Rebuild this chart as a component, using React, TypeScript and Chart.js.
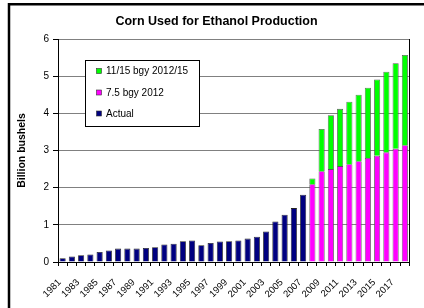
import React, { useEffect, useRef } from 'react';
import { Chart, registerables } from 'chart.js';

Chart.register(...registerables);

const FONT = '"Liberation Sans", Arial, sans-serif';

const years = [
  '1981', '1982', '1983', '1984', '1985', '1986', '1987', '1988', '1989', '1990',
  '1991', '1992', '1993', '1994', '1995', '1996', '1997', '1998', '1999', '2000',
  '2001', '2002', '2003', '2004', '2005', '2006', '2007', '2008', '2009', '2010',
  '2011', '2012', '2013', '2014', '2015', '2016', '2017', '2018',
];

const actual = [
  0.1, 0.15, 0.18, 0.2, 0.27, 0.31, 0.36, 0.36, 0.36, 0.38,
  0.4, 0.47, 0.49, 0.56, 0.58, 0.45, 0.51, 0.55, 0.56, 0.58,
  0.63, 0.68, 0.82, 1.09, 1.27, 1.45, 1.81, null, null, null,
  null, null, null, null, null, null, null, null,
];

const rfs75 = [
  null, null, null, null, null, null, null, null, null, null,
  null, null, null, null, null, null, null, null, null, null,
  null, null, null, null, null, null, null, 2.09, 2.44, 2.5,
  2.58, 2.63, 2.71, 2.8, 2.86, 2.95, 3.05, 3.14,
];

const rfs1115 = [
  null, null, null, null, null, null, null, null, null, null,
  null, null, null, null, null, null, null, null, null, null,
  null, null, null, null, null, null, null, 0.16, 1.14, 1.45,
  1.54, 1.68, 1.79, 1.89, 2.05, 2.17, 2.3, 2.43,
];

const yTicks = [0, 1, 2, 3, 4, 5, 6];

const framePlugin = {
  id: 'frame',
  beforeDraw(chart: any) {
    const ctx = chart.ctx;
    ctx.save();
    ctx.fillStyle = '#fff';
    ctx.fillRect(0, 0, chart.width, chart.height);
    ctx.strokeStyle = '#000';
    ctx.lineWidth = 2.5;
    ctx.beginPath();
    ctx.moveTo(9, chart.height + 2);
    ctx.lineTo(9, 4.3);
    ctx.lineTo(chart.width + 2, 4.3);
    ctx.stroke();
    ctx.restore();
  },
  afterDraw(chart: any) {
    const ctx = chart.ctx;
    const a = chart.chartArea;
    ctx.save();
    ctx.strokeStyle = '#000';
    ctx.lineWidth = 1;
    ctx.beginPath();
    ctx.moveTo(Math.round(a.right) + 0.5, a.top);
    ctx.lineTo(Math.round(a.right) + 0.5, a.bottom);
    ctx.stroke();

    // legend box inside plot
    const bx = 85.5, by = 60.5, bw = 114, bh = 66;
    ctx.fillStyle = '#fff';
    ctx.fillRect(bx, by, bw, bh);
    ctx.strokeStyle = '#000';
    ctx.strokeRect(bx, by, bw, bh);
    const ds = chart.data.datasets;
    const order = [2, 1, 0];
    const ys = [71, 92.5, 113.5];
    ctx.font = '10px ' + FONT;
    ctx.textBaseline = 'middle';
    ctx.textAlign = 'left';
    order.forEach((di, i) => {
      const d = ds[di];
      ctx.fillStyle = d.backgroundColor;
      ctx.fillRect(96.5, ys[i] - 2.5, 5, 5);
      ctx.strokeStyle = '#333';
      ctx.lineWidth = 0.6;
      ctx.strokeRect(96.5, ys[i] - 2.5, 5, 5);
      ctx.fillStyle = '#000';
      ctx.fillText(d.label, 106, ys[i] + 0.5);
    });
    ctx.restore();
  },
};

export default function App() {
  const ref = useRef<HTMLCanvasElement | null>(null);

  useEffect(() => {
    if (!ref.current) return;
    const chart = new Chart(ref.current, {
      type: 'bar',
      data: {
        labels: years,
        datasets: [
          {
            label: 'Actual',
            data: actual,
            backgroundColor: '#000080',
            borderColor: '#222',
            borderWidth: 0.8,
          },
          {
            label: '7.5 bgy 2012',
            data: rfs75,
            backgroundColor: '#FF00FF',
            borderColor: '#555',
            borderWidth: 0.8,
          },
          {
            label: '11/15 bgy 2012/15',
            data: rfs1115,
            backgroundColor: '#00FF00',
            borderColor: '#555',
            borderWidth: 0.8,
          },
        ],
      },
      options: {
        responsive: false,
        animation: false,
        layout: { padding: { left: 14, right: 5, top: 0, bottom: 0 } },
        datasets: {
          bar: { barPercentage: 0.66, categoryPercentage: 1 },
        },
        plugins: {
          legend: { display: false },
          tooltip: { enabled: false },
          title: {
            display: true,
            text: 'Corn Used for Ethanol Production',
            color: '#000',
            font: { family: FONT, size: 12.5, weight: 'bold' },
            padding: { top: 14, bottom: 10 },
          },
        },
        scales: {
          x: {
            stacked: true,
            offset: true,
            grid: {
              display: true,
              offset: true,
              drawOnChartArea: false,
              drawTicks: true,
              tickLength: 4,
              tickColor: '#000',
            },
            border: { display: true, color: '#000', width: 1 },
            ticks: {
              autoSkip: false,
              minRotation: 45,
              maxRotation: 45,
              padding: 11,
              labelOffset: -3,
              color: '#000',
              font: { family: FONT, size: 9.5 },
              callback: (_v: any, i: number) => (i % 2 === 0 ? years[i] : ''),
            },
            afterFit: (s: any) => {
              s.height = 46;
            },
          },
          y: {
            stacked: true,
            min: yTicks[0],
            max: yTicks[yTicks.length - 1],
            grid: {
              color: '#808080',
              tickColor: '#000',
              tickLength: 5,
            },
            border: { display: true, color: '#000', width: 1 },
            ticks: {
              stepSize: 1,
              padding: 4,
              color: '#000',
              font: { family: FONT, size: 10 },
            },
            title: {
              display: true,
              text: 'Billion bushels',
              color: '#000',
              font: { family: FONT, size: 10.5, weight: 'bold' },
              padding: { top: 2, bottom: 0 },
            },
            afterFit: (s: any) => {
              s.width = 44;
            },
          },
        },
      },
      plugins: [framePlugin],
    });
    return () => chart.destroy();
  }, []);

  return (
    <div style={{ position: 'fixed', left: 0, top: 0, width: 424, height: 308, background: '#fff' }}>
      <canvas ref={ref} width={424} height={308} />
    </div>
  );
}
